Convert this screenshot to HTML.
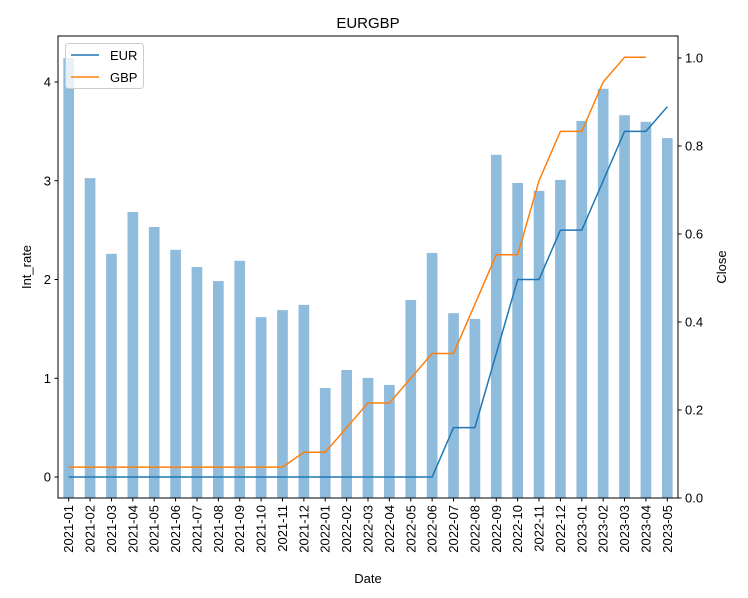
<!DOCTYPE html>
<html><head><meta charset="utf-8">
<style>
html,body{margin:0;padding:0;background:#fff;}
svg{display:block;font-family:"Liberation Sans","DejaVu Sans",sans-serif;}
</style></head>
<body>
<svg id="chart" width="748" height="598"></svg>
<script>
const categories=["2021-01","2021-02","2021-03","2021-04","2021-05","2021-06","2021-07","2021-08","2021-09","2021-10","2021-11","2021-12","2022-01","2022-02","2022-03","2022-04","2022-05","2022-06","2022-07","2022-08","2022-09","2022-10","2022-11","2022-12","2023-01","2023-02","2023-03","2023-04","2023-05"];
const closeValues=[1.0,0.727,0.555,0.65,0.616,0.564,0.525,0.493,0.539,0.411,0.427,0.439,0.25,0.291,0.273,0.257,0.45,0.557,0.42,0.407,0.78,0.716,0.698,0.723,0.857,0.93,0.87,0.855,0.818];
const eurRates=[0,0,0,0,0,0,0,0,0,0,0,0,0,0,0,0,0,0,0.5,0.5,1.25,2.0,2.0,2.5,2.5,3.0,3.5,3.5,3.75];
const gbpRates=[0.1,0.1,0.1,0.1,0.1,0.1,0.1,0.1,0.1,0.1,0.1,0.25,0.25,0.5,0.75,0.75,1.0,1.25,1.25,1.75,2.25,2.25,3.0,3.5,3.5,4.0,4.25,4.25,null];
const leftTicks=[0,1,2,3,4];
const rightTicks=[0.0,0.2,0.4,0.6,0.8,1.0];

const NS="http://www.w3.org/2000/svg";
const svg=document.getElementById('chart');
const L=58,R=678,T=36,B=498;
const step=(R-L)/categories.length;
const xPos=i=>L+step*(i+0.5);
const yLeft=v=>477-v*98.75;
const yRight=v=>B-v*440;
function mk(tag,attrs,parent){const e=document.createElementNS(NS,tag);for(const k in attrs)e.setAttribute(k,attrs[k]);(parent||svg).appendChild(e);return e;}

// bars
const barG=mk('g',{});


closeValues.forEach((v,i)=>{
  const bw=step*0.5;
  const r=mk('rect',{x:xPos(i)-bw/2,y:yRight(v),width:bw,height:B-yRight(v),fill:'#8fbbdc'},barG);
  
  
});

function linePath(vals){let d='';let started=false;vals.forEach((v,i)=>{if(v===null){started=false;return;}d+=(started?'L':'M')+xPos(i).toFixed(2)+','+yLeft(v).toFixed(2);started=true;});return d;}
const eur=mk('path',{d:linePath(eurRates),fill:'none',stroke:'#1f77b4','stroke-width':1.5});


const gbp=mk('path',{d:linePath(gbpRates),fill:'none',stroke:'#ff7f0e','stroke-width':1.5});



// frame
const frame=mk('rect',{x:L,y:T,width:R-L,height:B-T,fill:'none',stroke:'#000','stroke-width':1});



// left ticks
leftTicks.forEach(v=>{
  const y=yLeft(v);
  mk('line',{x1:L-3.5,x2:L,y1:y,y2:y,stroke:'#000'});
  const t=mk('text',{x:L-7,y:y+4.5,'text-anchor':'end','font-size':13},svg);t.textContent=v;
  
  
});
rightTicks.forEach(v=>{
  const y=yRight(v);
  mk('line',{x1:R,x2:R+3.5,y1:y,y2:y,stroke:'#000'});
  const t=mk('text',{x:R+7,y:y+4.5,'text-anchor':'start','font-size':13});t.textContent=v.toFixed(1);
  
  
});
categories.forEach((c,i)=>{
  const x=xPos(i);
  mk('line',{x1:x,x2:x,y1:B,y2:B+3.5,stroke:'#000'});
  const t=mk('text',{x:x+4.5,y:B+7,'text-anchor':'end','font-size':13,transform:`rotate(-90 ${x+4.5} ${B+7})`});t.textContent=c;
  
  
});
</script>
<svg width="0" height="0"></svg>
<div style="position:absolute;left:0;top:0;width:748px;height:598px;pointer-events:none;">
<svg width="748" height="598" style="position:absolute;left:0;top:0" font-family="Liberation Sans, DejaVu Sans, sans-serif">
<text x="368" y="28" text-anchor="middle" font-size="15">EURGBP</text>
<text x="368" y="583" text-anchor="middle" font-size="13">Date</text>
<text x="31" y="267" text-anchor="middle" font-size="13" transform="rotate(-90 31 267)">Int_rate</text>
<text x="726" y="267" text-anchor="middle" font-size="13" transform="rotate(-90 726 267)">Close</text>
<g>
<rect x="65.5" y="43.5" width="78" height="45" rx="3" fill="#fff" fill-opacity="0.8" stroke="#ccc"/>
<line x1="71" x2="99" y1="55" y2="55" stroke="#1f77b4" stroke-width="1.5"/>
<text x="110" y="60" font-size="13">EUR</text>
<line x1="71" x2="99" y1="77" y2="77" stroke="#ff7f0e" stroke-width="1.5"/>
<text x="110" y="82" font-size="13">GBP</text>
</g>
</svg>
</div>
</body></html>
